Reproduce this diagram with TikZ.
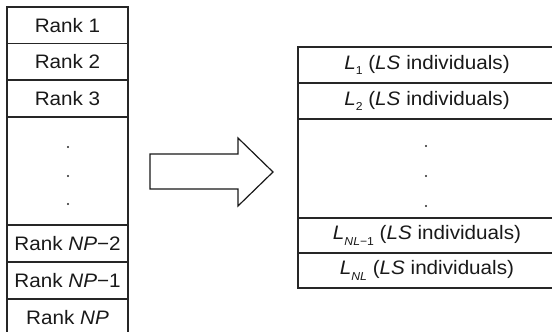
\documentclass[tikz,border=0pt]{standalone}
\usepackage{fontspec}
\setmainfont{Liberation Sans}
% slightly widened sans text, as in the ranking tables
\newcommand{\wtxt}[1]{\scalebox{1.06}[1]{#1}}
\newcommand{\lsub}[1]{\raisebox{-0.28em}{\fontsize{11.5}{13}\selectfont #1}}
\begin{document}
\begin{tikzpicture}[x=1pt,y=-1pt,
  cellline/.style={draw=black!85, line width=1.2pt},
  rankcell/.style={cellline, anchor=north west, minimum width=121pt,
    inner sep=0pt, outer sep=0pt, text=black!90, font=\fontsize{19.5}{22}\selectfont},
  groupcell/.style={cellline, anchor=north west, minimum width=258pt,
    inner sep=0pt, outer sep=0pt, text=black!90, font=\fontsize{19.5}{22}\selectfont},
  dot/.style={fill=black!85}]
\useasboundingbox (0,0) rectangle (552,332);
\clip (0,0) rectangle (552,332);

% ranked population (left column)
\node[rankcell, minimum height=36.5pt] (r1) at (7,7) {\wtxt{Rank 1}};
\node[rankcell, minimum height=36.5pt] (r2) at (7,43.5) {\wtxt{Rank 2}};
\node[rankcell, minimum height=37pt] (r3) at (7,80) {\wtxt{Rank 3}};
\node[rankcell, minimum height=108pt] (rdots) at (7,117) {};
\node[rankcell, minimum height=37pt] (rnp2) at (7,225) {\wtxt{Rank \textit{NP}−2}};
\node[rankcell, minimum height=37pt] (rnp1) at (7,262) {\wtxt{Rank \textit{NP}−1}};
\node[rankcell, minimum height=37pt] (rnp) at (7,299) {\wtxt{Rank \textit{NP}}};
\fill[dot] (68,147) circle (1.2pt) (68,176) circle (1.2pt) (68,204) circle (1.2pt);

% block arrow
\draw[line width=1.2pt, draw=black!90, fill=white]
  (150,154) -- (238,154) -- (238,138) -- (273,172) -- (238,206)
  -- (238,189) -- (150,189) -- cycle;

% groups of LS individuals (right column)
\node[groupcell, minimum height=36pt] (l1) at (298,47)
  {\wtxt{\textit{L}\lsub{1} (\textit{LS} individuals)}};
\node[groupcell, minimum height=36pt] (l2) at (298,83)
  {\wtxt{\textit{L}\lsub{2} (\textit{LS} individuals)}};
\node[groupcell, minimum height=99pt] (ldots) at (298,119) {};
\node[groupcell, minimum height=35pt] (lnl1) at (298,218)
  {\wtxt{\textit{L}\lsub{\textit{NL}−1} (\textit{LS} individuals)}};
\node[groupcell, minimum height=35pt] (lnl) at (298,253)
  {\wtxt{\textit{L}\lsub{\textit{NL}} (\textit{LS} individuals)}};
\fill[dot] (426,146) circle (1.2pt) (426,176) circle (1.2pt) (426,206) circle (1.2pt);
\end{tikzpicture}
\end{document}
